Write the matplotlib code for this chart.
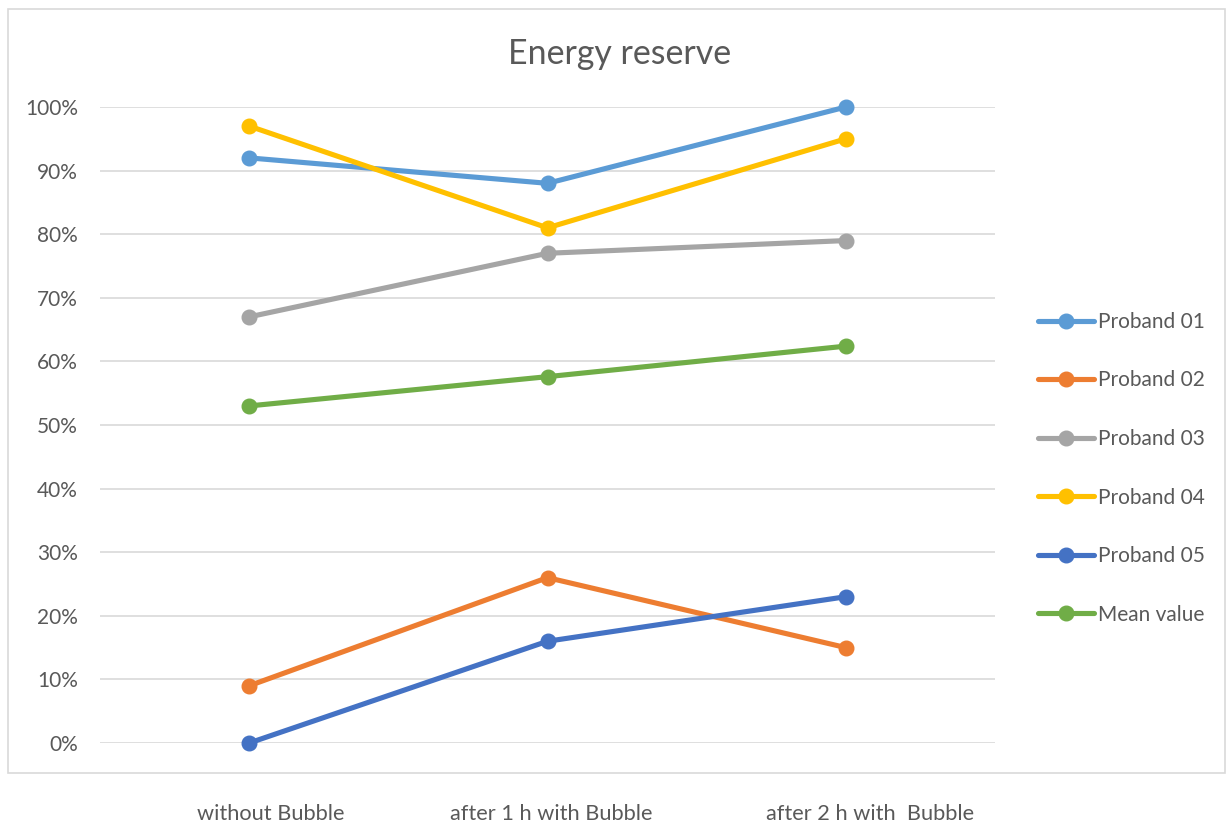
import matplotlib
matplotlib.use('Agg')
import matplotlib.pyplot as plt
import matplotlib.transforms as mtransforms
from matplotlib.patches import Rectangle
from matplotlib.ticker import PercentFormatter

categories = ['without Bubble', 'after 1 h with Bubble', 'after 2 h with  Bubble']
proband_01 = [0.92, 0.88, 1.00]
proband_02 = [0.09, 0.26, 0.15]
proband_03 = [0.67, 0.77, 0.79]
proband_04 = [0.97, 0.81, 0.95]
proband_05 = [0.00, 0.16, 0.23]
mean_value = [0.53, 0.576, 0.624]

series = [
    ('Proband 01', proband_01, '#5B9BD5'),
    ('Proband 02', proband_02, '#ED7D31'),
    ('Proband 03', proband_03, '#A5A5A5'),
    ('Proband 04', proband_04, '#FFC000'),
    ('Proband 05', proband_05, '#4472C4'),
    ('Mean value', mean_value, '#70AD47'),
]

plt.rcParams['font.family'] = ['Lato', 'DejaVu Sans']
text_col = '#595959'

W, H = 1227, 823
fig = plt.figure(figsize=(W / 100, H / 100), dpi=100)

# outer chart border
fig.patches.append(Rectangle((8 / W, (H - 773) / H), (1217) / W, (773 - 9) / H,
                             transform=fig.transFigure, fill=False,
                             edgecolor='#D9D9D9', linewidth=1.2))

ax = fig.add_axes([100 / W, (H - 743) / H, 895 / W, (743 - 107) / H])

x = list(range(len(categories)))
for name, vals, col in series:
    ax.plot(x, vals, color=col, linewidth=3.7, marker='o', markersize=10.5,
            label=name, clip_on=False, solid_capstyle='round')

ax.set_xlim(-0.5, 2.5)
ax.set_ylim(0, 1)
ax.set_yticks([i / 10 for i in range(11)])
ax.yaxis.set_major_formatter(PercentFormatter(1.0, decimals=0))
ax.grid(axis='y', color='#D9D9D9', linewidth=1.2)
ax.set_axisbelow(True)
for s in ax.spines.values():
    s.set_visible(False)
ax.tick_params(axis='both', length=0, labelsize=15, colors=text_col)
ax.tick_params(axis='y', pad=16)
ax.tick_params(axis='x', pad=44, labelsize=15.7)
ax.set_xticks(x)
ax.set_xticklabels(categories)

# category labels sit a little right of their points
shifts = [22, 4, 24]
for lab, dx in zip(ax.get_xticklabels(), shifts):
    lab.set_transform(lab.get_transform() +
                      mtransforms.ScaledTranslation(dx / 100, 0, fig.dpi_scale_trans))

fig.text(620 / W, 1 - 54 / H, 'Energy reserve', ha='center', va='center',
         fontsize=24.4, color=text_col)

leg = ax.legend(loc='center left', bbox_to_anchor=(1.027, 0.432), frameon=False,
                fontsize=15, labelcolor=text_col, labelspacing=1.85,
                handlelength=2.7, handletextpad=0.2)

fig.savefig('out.png', dpi=100)
